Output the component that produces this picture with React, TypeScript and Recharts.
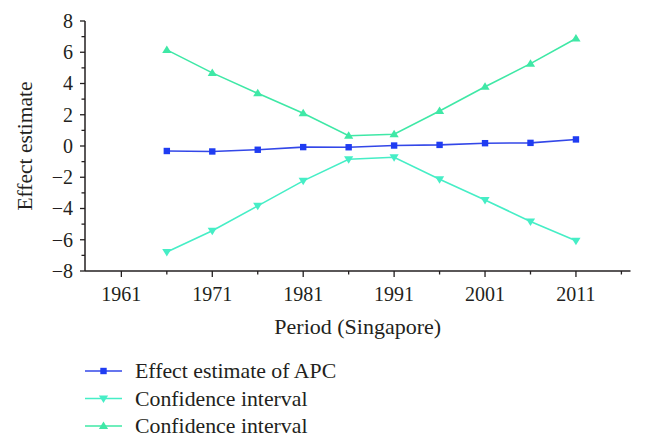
import React from "react";
import { LineChart, Line, XAxis, YAxis, Legend } from "recharts";

const years = [1966, 1971, 1976, 1981, 1986, 1991, 1996, 2001, 2006, 2011];
const apc = [-0.32, -0.35, -0.24, -0.07, -0.08, 0.03, 0.07, 0.18, 0.2, 0.42];
const ciLower = [-6.78, -5.42, -3.83, -2.23, -0.85, -0.72, -2.13, -3.45, -4.83, -6.07];
const ciUpper = [6.15, 4.68, 3.37, 2.09, 0.66, 0.75, 2.24, 3.79, 5.27, 6.88];

const xTicks = [1961, 1966, 1971, 1976, 1981, 1986, 1991, 1996, 2001, 2006, 2011, 2016];
const xMajor = [1961, 1971, 1981, 1991, 2001, 2011];
const yTicks = [-8, -7, -6, -5, -4, -3, -2, -1, 0, 1, 2, 3, 4, 5, 6, 7, 8];
const yMajor = [-8, -6, -4, -2, 0, 2, 4, 6, 8];

const seriesNames = ["Effect estimate of APC", "Confidence interval", "Confidence interval"];
const xTitle = "Period (Singapore)";
const yTitle = "Effect estimate";

const BLUE_LINE = "#3347e8";
const BLUE_MARK = "#1f3cf2";
const CYAN = "#46eec6";
const GREEN = "#3fe8a6";
const INK = "#231f20";
const FONT = "'Liberation Serif', 'Times New Roman', serif";

const data = years.map((y, i) => ({
  year: y,
  apc: apc[i],
  lower: ciLower[i],
  upper: ciUpper[i],
}));

const Square = ({ cx, cy, fill }: any) => (
  <rect x={cx - 3.2} y={cy - 3.2} width={6.4} height={6.4} fill={fill} />
);
const TriDown = ({ cx, cy, fill }: any) => (
  <polygon points={`${cx - 4.6},${cy - 3} ${cx + 4.6},${cy - 3} ${cx},${cy + 4.5}`} fill={fill} />
);
const TriUp = ({ cx, cy, fill }: any) => (
  <polygon points={`${cx - 4.6},${cy + 3} ${cx + 4.6},${cy + 3} ${cx},${cy - 4.5}`} fill={fill} />
);

const legendItems = [
  { name: seriesNames[0], line: BLUE_LINE, mark: BLUE_MARK, Shape: Square },
  { name: seriesNames[1], line: CYAN, mark: CYAN, Shape: TriDown },
  { name: seriesNames[2], line: GREEN, mark: GREEN, Shape: TriUp },
];

const XTick = (props: any) => {
  const { x, y, payload } = props;
  const major = xMajor.includes(payload.value);
  return (
    <g>
      <line x1={x} x2={x} y1={y} y2={y + (major ? 6 : 3.5)} stroke={INK} strokeWidth={1.3} />
      {major && (
        <text x={x} y={y + 29.5} textAnchor="middle" fontSize={20} fontFamily={FONT} fill={INK}>
          {payload.value}
        </text>
      )}
    </g>
  );
};

const YTick = (props: any) => {
  const { x, y, payload } = props;
  const major = yMajor.includes(payload.value);
  const v = payload.value;
  const label = v < 0 ? `\u2212${Math.abs(v)}` : `${v}`;
  return (
    <g>
      <line x1={x - (major ? 5 : 3.5)} x2={x} y1={y} y2={y} stroke={INK} strokeWidth={1.3} />
      {major && (
        <text x={x - 12} y={y + 6.8} textAnchor="end" fontSize={20} fontFamily={FONT} fill={INK}>
          {label}
        </text>
      )}
    </g>
  );
};

const LegendContent = () => (
  <svg width={420} height={90}>
    {legendItems.map((it, i) => {
      const cy = 16 + i * 27.5;
      const S = it.Shape;
      return (
        <g key={i}>
          <line x1={85} x2={122} y1={cy} y2={cy} stroke={it.line} strokeWidth={1.6} />
          <S cx={103.5} cy={cy} fill={it.mark} />
          <text x={135} y={cy + 7.2} fontSize={21.8} fontFamily={FONT} fill={INK}>
            {it.name}
          </text>
        </g>
      );
    })}
  </svg>
);

export default function App() {
  return (
    <div style={{ position: "absolute", left: 0, top: 0, width: 645, height: 446, background: "#fff" }}>
      <LineChart width={645} height={446} data={data} margin={{ top: 21, right: 14.5, left: 0, bottom: 115 }}>
        <XAxis
          dataKey="year"
          type="number"
          domain={[1957, 2017]}
          ticks={xTicks}
          interval={0}
          tick={<XTick />}
          tickLine={false}
          tickSize={0}
          tickMargin={0}
          axisLine={{ stroke: INK, strokeWidth: 1.5 }}
          height={60}
          label={(p: any) => {
            const vb = p.viewBox;
            return (
              <text
                x={vb.x + vb.width / 2}
                y={vb.y + 63}
                textAnchor="middle"
                fontSize={22}
                fontFamily={FONT}
                fill={INK}
              >
                {xTitle}
              </text>
            );
          }}
        />
        <YAxis
          type="number"
          domain={[-8, 8]}
          ticks={yTicks}
          interval={0}
          tick={<YTick />}
          tickLine={false}
          tickSize={0}
          tickMargin={0}
          width={85}
          axisLine={{ stroke: INK, strokeWidth: 1.5 }}
          label={(p: any) => {
            const vb = p.viewBox;
            const cx = 32;
            const cy = vb.y + vb.height / 2;
            return (
              <text
                x={cx}
                y={cy}
                transform={`rotate(-90 ${cx} ${cy})`}
                textAnchor="middle"
                fontSize={21.5}
                fontFamily={FONT}
                fill={INK}
              >
                {yTitle}
              </text>
            );
          }}
        />
        <Legend
          layout="horizontal"
          verticalAlign="middle"
          align="center"
          content={<LegendContent />}
          wrapperStyle={{ position: "absolute", left: 0, top: 355, width: 420, height: 90 }}
        />
        <Line
          dataKey="lower"
          name={seriesNames[1]}
          stroke={CYAN}
          strokeWidth={1.6}
          dot={(p: any) => <TriDown key={p.index} cx={p.cx} cy={p.cy} fill={CYAN} />}
          isAnimationActive={false}
        />
        <Line
          dataKey="upper"
          name={seriesNames[2]}
          stroke={GREEN}
          strokeWidth={1.6}
          dot={(p: any) => <TriUp key={p.index} cx={p.cx} cy={p.cy} fill={GREEN} />}
          isAnimationActive={false}
        />
        <Line
          dataKey="apc"
          name={seriesNames[0]}
          stroke={BLUE_LINE}
          strokeWidth={1.6}
          dot={(p: any) => <Square key={p.index} cx={p.cx} cy={p.cy} fill={BLUE_MARK} />}
          isAnimationActive={false}
        />
      </LineChart>
    </div>
  );
}
